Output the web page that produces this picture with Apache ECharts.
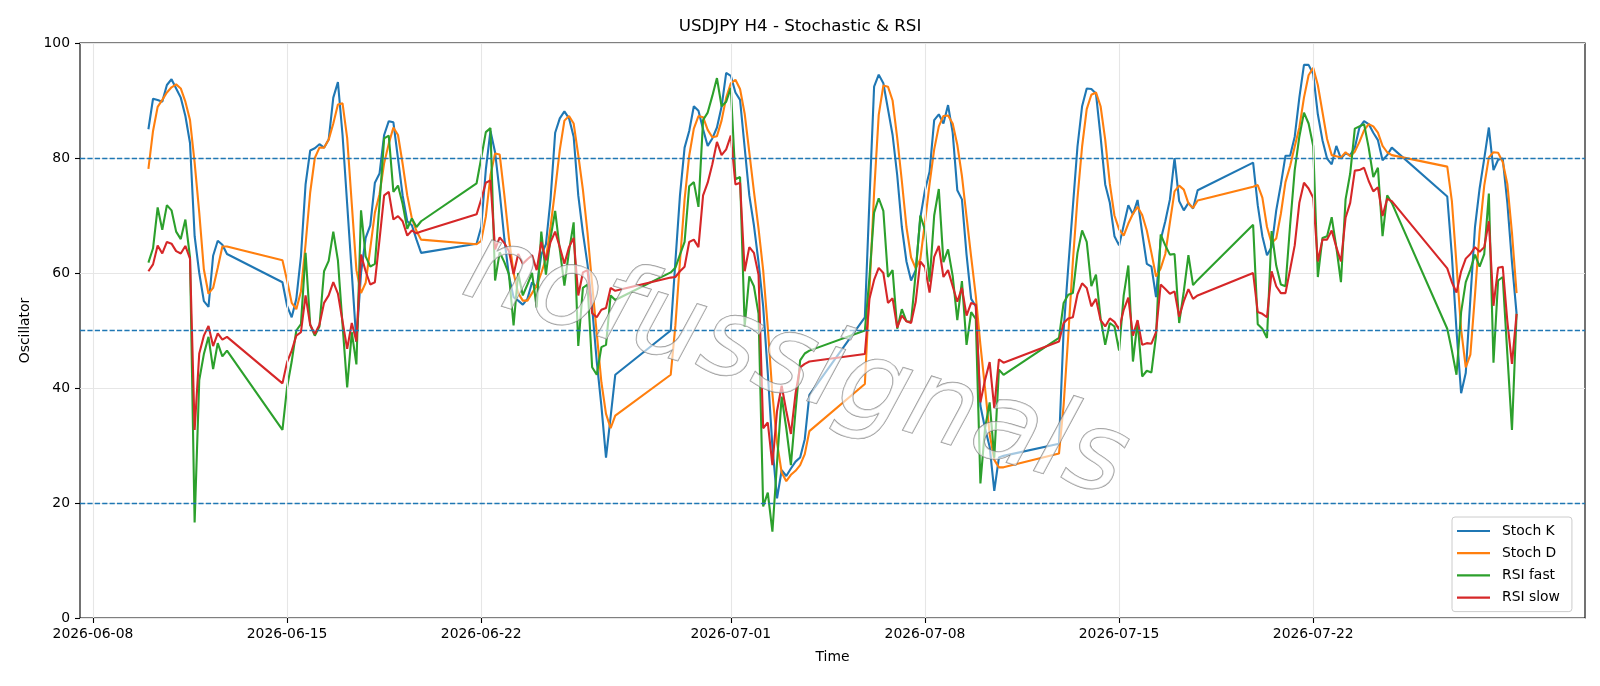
<!DOCTYPE html>
<html>
<head>
<meta charset="utf-8">
<script src="https://cdn.jsdelivr.net/npm/echarts@6/dist/echarts.min.js"></script>
<style>
html,body{margin:0;padding:0;background:#fff;}
#chart{width:1600px;height:686px;}
</style>
</head>
<body>
<div id="chart"></div>
<script>
// H4 trading sessions: [first bar (UTC), number of H4 bars]
const sessions = [
  ['2026-06-10T00:00:00Z', 18],
  ['2026-06-14T20:00:00Z', 31],
  ['2026-06-21T20:00:00Z', 31],
  ['2026-06-28T20:00:00Z', 31],
  ['2026-07-05T20:00:00Z', 31],
  ['2026-07-12T20:00:00Z', 31],
  ['2026-07-19T20:00:00Z', 31],
  ['2026-07-26T20:00:00Z', 16]
];
const tickLabels = ['2026-06-08','2026-06-15','2026-06-22','2026-07-01','2026-07-08','2026-07-15','2026-07-22'];
const refLevels = [20, 50, 80];
const seriesNames = ['Stoch K','Stoch D','RSI fast','RSI slow'];

const stochK = [
  85.0,90.3,90.1,89.8,92.7,93.7,92.1,90.5,87.3,82.6,66.4,60.0,55.1,54.1,63.0,65.6,64.9,63.3,
  58.4,54.3,52.3,55.5,62.9,75.4,81.3,81.7,82.4,81.8,83.2,90.5,93.2,84.0,72.0,60.0,48.0,60.0,66.1,68.3,75.7,77.3,84.0,86.4,86.2,79.9,73.5,69.0,68.3,65.8,63.5,
  65.1,68.0,78.0,84.7,81.0,74.0,66.0,59.5,55.8,55.2,54.5,55.5,58.4,57.5,63.2,65.0,72.8,84.4,86.9,88.1,86.9,83.7,73.5,67.0,61.5,54.0,44.6,36.9,27.9,35.0,42.3,
  50.0,61.9,73.5,81.8,84.7,89.0,88.2,85.0,82.1,83.4,85.3,88.9,94.8,94.3,91.4,90.1,81.8,73.5,68.3,61.9,54.2,42.6,29.8,20.8,25.7,24.7,26.0,27.2,27.9,31.1,38.8,
  52.3,72.8,92.4,94.5,93.0,88.5,84.0,77.0,68.0,62.0,58.7,60.5,69.6,74.4,77.6,86.6,87.6,86.0,89.2,84.4,74.4,72.8,63.2,55.5,54.2,36.9,33.0,29.8,22.1,27.9,28.2,
  30.3,50.0,61.0,71.5,82.0,89.0,92.1,92.0,91.2,83.7,75.4,72.2,66.4,64.8,68.3,71.8,70.2,72.7,67.0,61.6,61.1,55.8,65.8,69.0,72.8,80.0,72.5,70.9,72.2,71.2,74.4,
  79.2,71.8,66.4,63.1,64.5,70.9,75.4,80.4,80.4,83.7,90.5,96.2,96.2,94.6,87.6,83.1,79.9,78.9,82.1,79.9,80.8,80.5,81.8,85.3,86.4,85.9,84.4,83.1,79.6,80.5,81.8,
  73.3,63.0,50.0,39.1,42.6,55.5,68.0,74.7,79.9,85.3,77.9,79.7,79.9,72.2,61.9,52.9
];
const stochD = [
  78.1,84.7,88.9,90.1,91.4,92.3,92.8,92.1,89.8,86.6,79.2,70.5,60.6,56.4,57.4,60.9,64.6,64.6,
  62.2,58.7,54.8,53.7,56.8,65.0,74.0,80.0,81.8,81.8,83.2,86.0,89.3,89.5,83.5,72.0,60.5,56.5,58.3,64.3,70.5,73.7,79.1,82.5,85.3,84.0,79.0,73.5,69.5,67.3,65.8,
  65.0,65.6,69.8,77.0,80.8,80.6,73.6,66.0,60.0,56.5,55.2,55.2,56.5,57.8,60.0,62.5,68.0,74.5,81.4,86.5,87.3,86.0,80.5,74.5,67.0,58.0,49.5,41.0,35.5,33.0,35.2,
  42.3,50.8,62.0,72.8,80.4,85.1,87.3,87.1,84.9,83.6,83.8,86.5,90.5,93.0,93.6,92.0,87.7,81.0,74.2,67.7,60.5,50.5,39.0,30.5,25.3,23.8,24.9,25.6,26.6,28.5,32.5,
  40.7,57.0,74.0,87.5,92.6,92.4,90.0,83.5,76.0,68.0,62.7,60.8,62.4,68.8,75.5,81.5,85.5,87.3,87.4,86.0,82.3,76.9,69.8,62.8,56.0,47.5,40.0,32.0,27.5,26.2,26.2,
  28.6,37.0,49.0,62.0,73.0,82.0,88.5,91.0,91.4,89.0,83.2,75.5,70.0,67.6,66.5,68.6,70.3,71.5,70.1,67.4,63.5,59.4,60.8,63.3,68.8,74.2,75.2,74.5,72.1,71.3,72.6,
  75.0,75.3,73.1,68.0,65.2,66.0,70.3,75.8,78.6,82.0,85.3,90.5,94.4,95.7,92.7,88.0,83.3,80.5,80.3,80.1,81.0,80.3,81.1,82.8,84.8,85.9,85.5,84.4,82.1,81.0,80.5,
  78.5,72.5,61.5,50.2,43.6,45.8,56.2,67.2,75.2,80.1,81.0,80.9,79.3,75.5,67.0,56.5
];
const rsiFast = [
  61.8,64.3,71.4,67.5,71.8,70.9,67.2,65.9,69.3,62.7,16.6,41.4,45.9,48.9,43.3,47.8,45.5,46.5,
  32.7,40.1,44.6,50.0,51.1,63.5,51.0,49.1,50.7,60.3,62.1,67.2,62.2,51.0,40.1,49.7,44.1,70.9,62.9,61.1,61.6,72.0,83.4,83.9,74.1,75.2,72.0,67.7,69.5,68.0,69.0,
  75.6,80.0,84.5,85.2,58.7,63.6,61.9,59.8,50.9,60.0,56.1,58.0,60.0,54.0,67.2,59.7,66.1,70.8,64.1,57.8,63.8,68.8,47.3,57.4,58.0,43.6,42.3,47.1,47.5,56.1,55.3,
  60.1,60.9,63.2,65.4,75.1,75.8,71.5,86.6,87.9,90.8,93.9,89.0,89.8,92.2,76.3,76.7,50.7,59.4,57.7,52.9,19.4,21.8,15.0,27.0,38.5,33.0,26.6,36.0,44.8,46.0,46.5,
  50.0,59.3,70.5,73.0,70.8,59.3,60.5,50.3,53.7,51.6,51.5,60.0,70.0,67.5,58.5,70.0,74.6,61.9,64.1,59.5,51.8,58.6,47.5,53.2,52.0,23.4,33.0,37.5,27.9,43.2,42.3,
  48.7,54.8,56.2,56.5,63.5,67.4,65.4,57.7,59.7,52.1,47.5,51.3,50.7,46.5,56.1,61.3,44.6,51.6,42.0,43.0,42.7,49.1,66.7,64.8,63.2,63.3,51.3,56.8,63.1,57.9,58.8,
  68.4,51.1,50.3,48.7,67.3,61.3,58.0,57.7,68.3,77.9,83.7,87.9,86.0,82.1,59.3,66.1,66.4,69.7,64.5,58.4,72.8,77.3,85.1,85.5,85.9,81.8,76.7,78.3,66.4,73.5,72.2,
  50.3,46.5,42.3,53.2,58.4,60.6,63.2,61.1,63.3,73.8,44.4,58.7,59.3,45.9,32.7,52.9
];
const rsiSlow = [
  60.3,61.5,64.8,63.4,65.4,65.1,63.8,63.4,64.7,62.5,32.7,46.0,49.1,50.8,47.3,49.5,48.4,48.9,
  40.8,44.5,46.5,49.1,49.7,56.1,51.0,49.4,51.0,54.8,56.1,58.4,56.4,51.6,46.8,51.3,48.1,63.2,60.3,58.0,58.4,65.8,73.5,74.1,69.3,69.9,69.0,66.5,67.4,66.9,67.2,
  70.2,72.8,75.7,76.1,64.1,66.2,65.2,63.8,59.8,63.3,61.6,62.4,63.1,60.5,65.4,62.2,65.4,67.2,64.5,61.6,64.5,66.1,56.1,60.1,60.5,53.0,52.3,53.6,53.9,57.4,56.9,
  59.2,59.3,60.3,61.1,65.4,65.8,64.5,73.5,75.7,78.9,82.8,80.5,81.5,83.9,75.4,75.7,60.3,64.5,63.5,59.7,33.0,34.0,26.6,36.0,40.4,36.0,32.0,39.0,43.6,44.2,44.6,
  45.9,55.5,58.8,60.9,60.0,54.8,55.6,50.5,52.6,51.6,51.3,55.0,62.0,61.0,56.6,62.8,64.7,59.3,60.5,57.7,55.0,57.4,52.6,54.8,54.5,37.5,41.4,44.5,36.5,45.0,44.4,
  48.1,51.3,52.1,52.3,56.3,58.2,57.4,54.2,55.5,51.8,50.7,52.1,51.5,50.2,53.6,55.7,49.1,51.8,47.5,47.8,47.7,49.7,58.0,57.2,56.4,56.8,52.4,55.1,57.2,55.5,56.1,
  60.0,53.2,52.9,52.3,60.3,57.7,56.5,56.5,60.6,64.8,72.2,75.7,74.7,73.1,62.0,65.8,65.8,67.4,64.5,62.0,69.6,72.2,77.8,77.9,78.3,76.0,74.2,74.9,69.9,72.9,72.5,
  60.8,58.4,56.6,60.3,62.5,63.3,64.5,63.7,64.5,69.0,54.3,60.9,61.1,51.6,44.2,52.9
];

// build the H4 time stamps of each session
const H4 = 4 * 3600 * 1000;
const times = [];
sessions.forEach(function (s) {
  const t0 = Date.parse(s[0]);
  for (let i = 0; i < s[1]; i++) times.push(t0 + i * H4);
});
const tickValues = tickLabels.map(function (d) { return Date.parse(d + 'T00:00:00Z'); });
function pair(arr) { return times.map(function (t, i) { return [t, arr[i]]; }); }
function fmtDate(v) {
  const d = new Date(v);
  const p = function (n) { return (n < 10 ? '0' : '') + n; };
  return d.getUTCFullYear() + '-' + p(d.getUTCMonth() + 1) + '-' + p(d.getUTCDate());
}
const tMin = times[0], tMax = times[times.length - 1];
const pad = (tMax - tMin) * 0.05;

const FONT = 'DejaVu Sans';
const colors = ['#1f77b4', '#ff7f0e', '#2ca02c', '#d62728'];
const values = [stochK, stochD, rsiFast, rsiSlow];

const dataSeries = seriesNames.map(function (name, i) {
  return {
    name: name, type: 'line', data: pair(values[i]), showSymbol: false, symbol: 'none',
    lineStyle: { width: 2.1, color: colors[i] }, itemStyle: { color: colors[i] },
    z: 3, animation: false
  };
});

const chart = echarts.init(document.getElementById('chart'), null, { renderer: 'canvas' });
chart.setOption({
  animation: false,
  backgroundColor: '#fff',
  textStyle: { fontFamily: FONT },
  title: {
    text: 'USDJPY H4 - Stochastic & RSI', left: 'center', top: 13,
    textStyle: { fontFamily: FONT, fontSize: 16.7, fontWeight: 'normal', color: '#000' }
  },
  grid: { left: 80, right: 15, top: 43, bottom: 68, show: true, borderColor: '#000', borderWidth: 1.1, backgroundColor: 'transparent' },
  legend: {
    data: seriesNames, orient: 'vertical', left: 1452, top: 517,
    padding: [7, 12, 7, 5], itemGap: 8.2, itemWidth: 33, itemHeight: 2.2, icon: 'rect',
    backgroundColor: 'rgba(255,255,255,0.85)', borderColor: '#cccccc', borderWidth: 1, borderRadius: 3,
    textStyle: { fontFamily: FONT, fontSize: 13.9, color: '#000', padding: [0, 0, 0, 7] }
  },
  xAxis: {
    type: 'value', min: tMin - pad, max: tMax + pad,
    name: 'Time', nameLocation: 'middle', nameGap: 32,
    nameTextStyle: { fontFamily: FONT, fontSize: 13.9, color: '#000' },
    axisLine: { show: false },
    axisTick: { show: true, customValues: tickValues, length: 5, lineStyle: { color: '#000', width: 1.1 } },
    axisLabel: { customValues: tickValues, formatter: fmtDate, margin: 9, fontFamily: FONT, fontSize: 13.9, color: '#000' },
    splitLine: { show: false }
  },
  yAxis: {
    type: 'value', min: 0, max: 100, interval: 20,
    name: 'Oscillator', nameLocation: 'middle', nameGap: 48,
    nameTextStyle: { fontFamily: FONT, fontSize: 13.9, color: '#000' },
    axisLine: { show: false },
    axisTick: { show: true, length: 5, lineStyle: { color: '#000', width: 1.1 } },
    axisLabel: { margin: 10, fontFamily: FONT, fontSize: 13.9, color: '#000' },
    splitLine: { show: true, lineStyle: { color: '#e6e6e6', width: 1.1 } }
  },
  graphic: [{
    type: 'text', x: 795, y: 367, rotation: -0.30, z: 100, silent: true,
    style: {
      text: 'nofussignals', font: 'italic 110px "DejaVu Sans"',
      textAlign: 'center', textVerticalAlign: 'middle',
      fill: 'rgba(255,255,255,0.6)', stroke: 'rgba(120,120,120,0.8)', lineWidth: 1.3,
      shadowColor: 'rgba(0,0,0,0.35)', shadowBlur: 3, shadowOffsetX: 5, shadowOffsetY: 5
    }
  }],
  series: [
    {
      name: 'vgrid', type: 'line', data: [], silent: true, z: 1,
      markLine: {
        silent: true, symbol: ['none', 'none'], label: { show: false }, animation: false,
        lineStyle: { color: '#e6e6e6', width: 1.1, type: 'solid' },
        data: tickValues.map(function (v) { return { xAxis: v }; })
      }
    },
    {
      name: 'levels', type: 'line', data: [], silent: true, z: 2,
      markLine: {
        silent: true, symbol: ['none', 'none'], label: { show: false }, animation: false,
        lineStyle: { color: '#1f77b4', width: 1.4, type: [5.2, 2.2] },
        data: refLevels.map(function (v) { return { yAxis: v }; })
      }
    }
  ].concat(dataSeries)
});
</script>
</body>
</html>
